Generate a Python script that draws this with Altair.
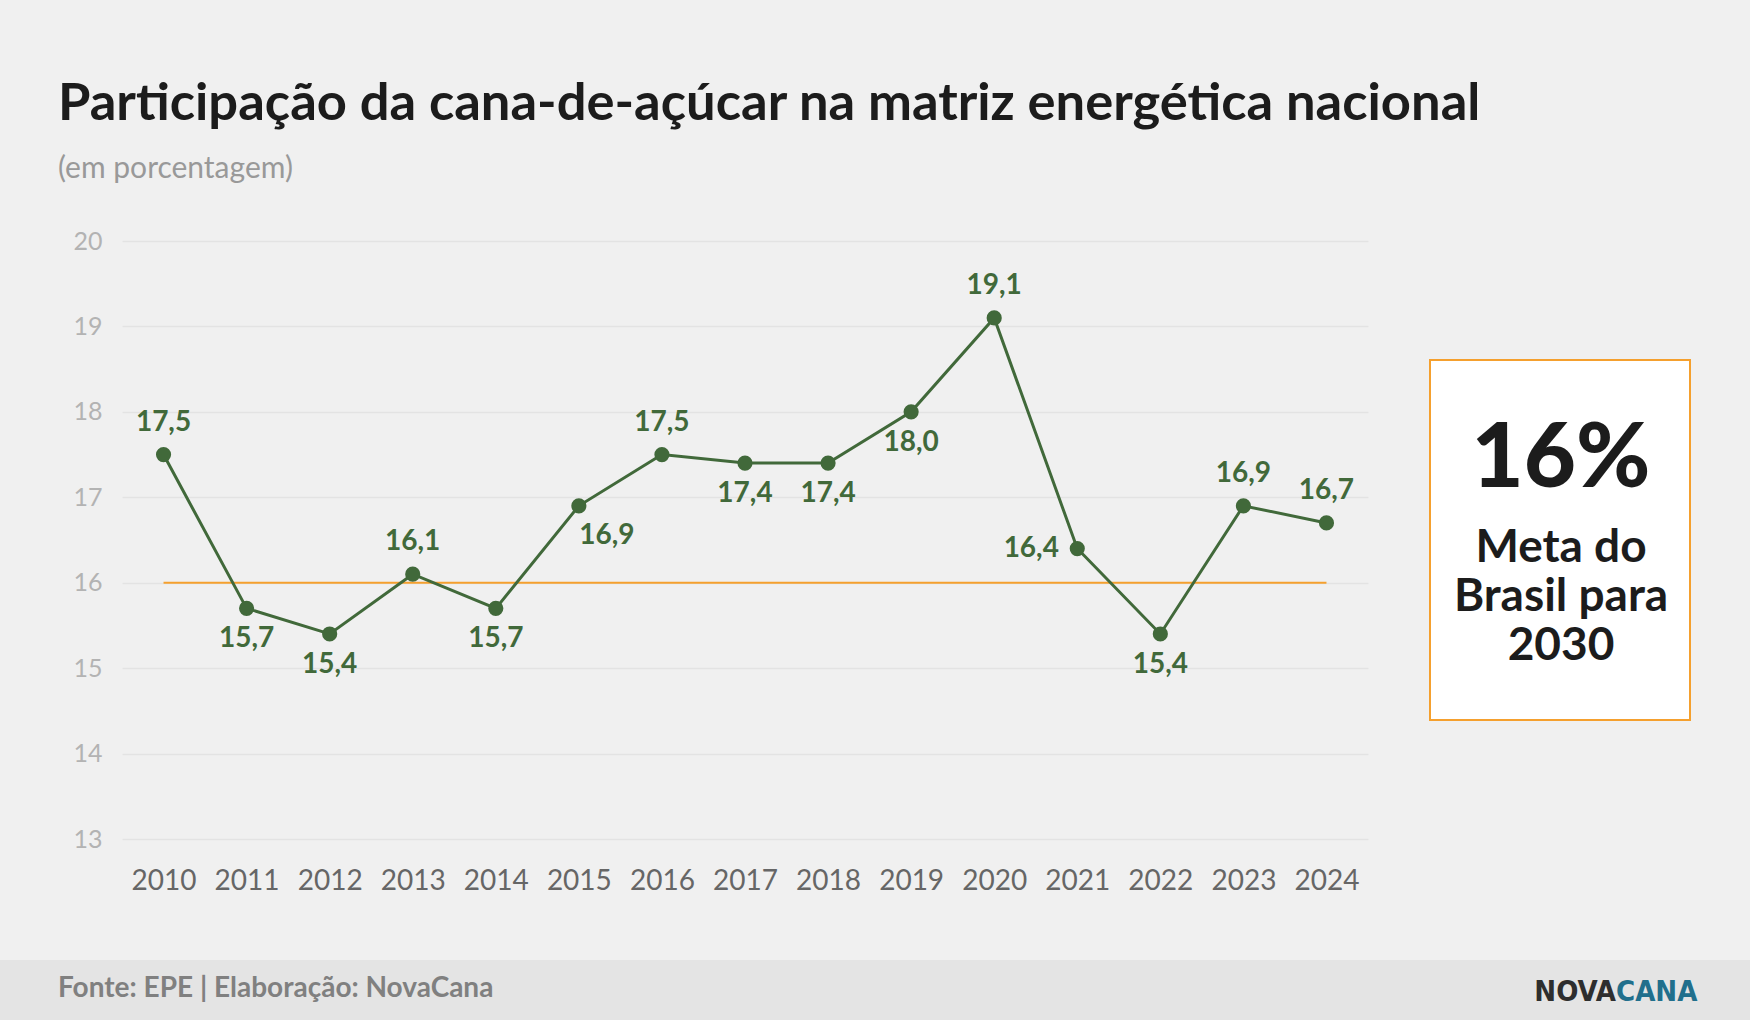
import altair as alt
import pandas as pd

# Share of sugarcane in Brazil's energy matrix (%)
years = [2010, 2011, 2012, 2013, 2014, 2015, 2016, 2017, 2018, 2019, 2020, 2021, 2022, 2023, 2024]
share = [17.5, 15.7, 15.4, 16.1, 15.7, 16.9, 17.5, 17.4, 17.4, 18.0, 19.1, 16.4, 15.4, 16.9, 16.7]
target_2030 = 16.0
y_ticks = [13, 14, 15, 16, 17, 18, 19, 20]

# Which side of the point each value label sits on
label_above = [2010, 2013, 2016, 2020, 2023, 2024]
label_below = [2011, 2012, 2014, 2017, 2018, 2019, 2022]
label_below_right = [2015]
label_left = [2021]

title_text = "Participação da cana-de-açúcar na matriz energética nacional"
subtitle_text = "(em porcentagem)"
source_text = "Fonte: EPE | Elaboração: NovaCana"
goal_value_text = "16%"
goal_caption = "Meta do\nBrasil para\n2030"

df = pd.DataFrame({
    "ano": [str(y) for y in years],
    "ano_n": years,
    "valor": share,
    "rotulo": [f"{v:.1f}".replace(".", ",") for v in share],
})
target_df = pd.DataFrame({
    "ano": [str(years[0]), str(years[-1])],
    "valor": [target_2030, target_2030],
})

FONT = "Lato"
GREEN = "#41693a"
ORANGE = "#f5a02e"
W, H = 1246, 598
LEFT, TOP = 122, 241

x_enc = alt.X("ano:N", title=None, sort=None,
              scale=alt.Scale(type="point", padding=0.5),
              axis=alt.Axis(labelAngle=0, labelFont=FONT, labelFontSize=28,
                            labelColor="#666666", labelPadding=28, ticks=False,
                            domain=False, grid=False))
y_enc = alt.Y("valor:Q", title=None,
              scale=alt.Scale(domain=[13, 20], nice=False, zero=False),
              axis=alt.Axis(values=y_ticks, format="d", labelFont=FONT, labelFontSize=25,
                            labelColor="#b3b3b3", labelPadding=20, ticks=False,
                            domain=False, gridColor="#e3e3e3", gridWidth=1.5))

base = alt.Chart(df)

target_line = alt.Chart(target_df).mark_line(color=ORANGE, strokeWidth=2).encode(
    x=x_enc, y=y_enc)

line = base.mark_line(color=GREEN, strokeWidth=3).encode(x=x_enc, y=y_enc)
points = base.mark_circle(color=GREEN, size=230, opacity=1).encode(x="ano:N", y="valor:Q")


def labels(which, **offsets):
    return base.transform_filter(
        alt.FieldOneOfPredicate(field="ano_n", oneOf=which)
    ).mark_text(font=FONT, fontSize=28, fontWeight="bold", color=GREEN, **offsets).encode(
        x="ano:N", y="valor:Q", text="rotulo:N")


lab_above = labels(label_above, dy=-32)
lab_below = labels(label_below, dy=31)
lab_below_right = labels(label_below_right, dy=30, dx=28)
lab_left = labels(label_left, dx=-46)

# Title, subtitle, target box and footer
def note(text, x, y, size, color, weight="normal", align="left", baseline="alphabetic",
         font=FONT, **extra):
    return alt.Chart(pd.DataFrame({"t": [text]})).mark_text(
        font=font, fontSize=size, fontWeight=weight, color=color,
        align=align, baseline=baseline, **extra
    ).encode(x=alt.value(x), y=alt.value(y), text="t:N")


title = note(title_text, 58 - LEFT, 120 - TOP, 52.5, "#1c1c1c", weight="bold")
subtitle = note(subtitle_text, 58 - LEFT, 178 - TOP, 30, "#999999")

box = alt.Chart(pd.DataFrame({"a": [0]})).mark_rect(
    fill="white", stroke=ORANGE, strokeWidth=2
).encode(x=alt.value(1430 - LEFT), x2=alt.value(1690 - LEFT),
         y=alt.value(360 - TOP), y2=alt.value(720 - TOP))

box_cx = 1561 - LEFT
big = note(goal_value_text, box_cx, 487 - TOP, 90, "#1c1c1c", weight=900, align="center")
caption = note(goal_caption, box_cx, 562 - TOP, 46, "#1c1c1c", weight="bold",
               align="center", lineBreak="\n", lineHeight=49)

footer = alt.Chart(pd.DataFrame({"a": [0]})).mark_rect(fill="#e4e4e4").encode(
    x=alt.value(-LEFT), x2=alt.value(1750 - LEFT),
    y=alt.value(960 - TOP), y2=alt.value(1020 - TOP))
source = note(source_text, 58 - LEFT, 989 - TOP, 28, "#808080", weight="bold", baseline="middle")

logo_font = "'DejaVu Sans Condensed', Roboto, sans-serif"
logo_a = note("NOVA", 1616 - LEFT, 1001 - TOP, 29, "#2e2e2e", weight="bold",
              align="right", font=logo_font)
logo_b = note("CANA", 1616 - LEFT, 1001 - TOP, 29, "#216f8c", weight="bold",
              align="left", font=logo_font)

chart = alt.layer(
    footer, target_line, line, points, lab_above, lab_below, lab_below_right, lab_left,
    title, subtitle, box, big, caption, source, logo_a, logo_b
).properties(
    width=W, height=H,
    autosize=alt.AutoSizeParams(type="none"),
    padding={"left": LEFT, "top": TOP, "right": 1750 - LEFT - W, "bottom": 1020 - TOP - H},
    background="#f0f0f0",
).configure_view(stroke=None)

chart.save("out.html", embed_options={"renderer": "svg", "actions": False})
